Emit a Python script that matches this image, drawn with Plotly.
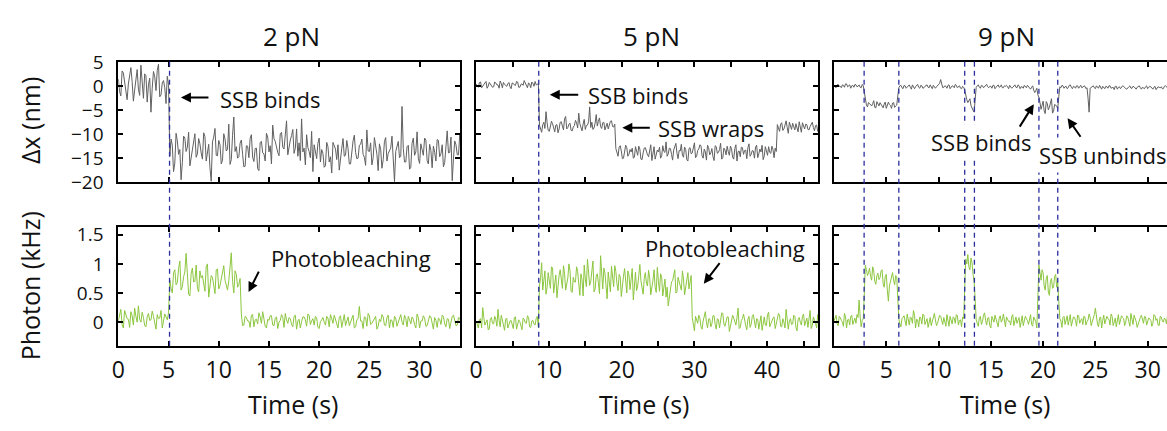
import numpy as np
import plotly.graph_objects as go

# ---------------- data ----------------
# Each trace: samples at t = i*dt ("main") and samples half a step later ("mid").
DT_2PN = 0.25
DT_5PN = 0.3
DT_9PN = 0.2

dx_2pN = [1.5, -2.0, 2.8, -1.2, 0.5, 3.9, -3.1, 1.8, -0.6, 4.4, -2.5, 2.2, 0.3, -5.4, 3.1, -0.9, 4.6, -1.8, 1.2, -3.6, 0.4,
          -11.0, -17.8, -9.8, -14.2, -19.5, -10.4, -13.6, -9.6, -15.1, -11.8, -14.8, -10.9,
          -13.9, -9.7, -15.6, -12.1, -19.8, -10.6, -14.4, -11.3, -16.2, -9.9, -13.5, -7.9, -15.3, -6.4, -12.6, -14.7,
          -11.2, -16.8, -12.4, -14.9, -10.1, -15.7, -12.9, -17.6, -11.5, -14.1, -9.8, -13.7, -16.2, -10.9, -12.8, -14.5,
          -9.6, -13.1, -7.2, -12.5, -10.3, -14.0, -8.9, -11.8, -6.8, -12.9, -10.1, -13.6, -9.4, -12.2, -15.1, -10.8,
          -13.2, -16.9, -11.7, -15.8, -18.1, -12.4, -15.3, -17.5, -12.9, -14.6, -11.3, -16.2, -13.0, -10.2, -15.1, -12.3,
          -11.0, -14.8, -9.1, -13.6, -16.4, -10.7, -14.2, -12.0, -17.1, -11.5, -15.6, -13.3, -10.4, -19.9, -12.8, -14.9,
          -4.2, -15.8, -12.6, -17.3, -11.9, -14.4, -9.5, -16.1, -13.2, -10.8, -15.5, -12.1, -17.0, -13.8, -11.1, -14.7,
          -12.2, -15.9, -9.3, -13.8, -19.7, -11.4, -14.3, -10.1]
dx_2pN_mid = [-1.1, 3.2, 0.6, -2.8, 2.4, 1.0, -0.8, 3.5, -1.9, 0.9, 2.6, -3.3, 1.7, -0.4, 2.0, 3.3, -2.2, 0.7, -0.3, 2.1,
              -14.6, -12.3, -16.0, -11.4, -13.2, -15.9, -10.8, -12.7, -16.6, -13.3, -9.9, -14.1, -12.0,
              -15.2, -10.5, -13.8, -17.0, -11.6, -8.8, -14.5, -12.2, -15.4, -11.0, -13.1, -16.3, -10.2,
              -13.6, -15.0, -11.9, -14.2, -16.7, -12.5, -10.9, -14.8, -13.0, -17.2, -11.7, -13.9, -15.6,
              -10.6, -12.4, -8.1, -11.5, -13.8, -9.9, -12.7, -10.4, -14.3, -11.2, -9.0, -12.9, -14.6,
              -15.5, -13.7, -16.4, -12.8, -14.9, -17.8, -13.4, -11.9, -15.8, -14.0, -16.6, -12.6, -14.7,
              -11.7, -13.1, -12.2, -15.7, -10.9, -14.4, -13.0, -16.2, -11.4, -13.8, -15.0, -12.1, -14.2,
              -16.5, -13.5, -11.8, -14.9, -12.4, -17.6, -13.2, -15.3, -10.7, -14.0, -12.9, -16.0, -13.6,
              -11.5, -14.6, -13.0, -15.8, -12.3, -16.9, -10.8, -13.7, -15.1, -12.0, -14.4, -11.2, -16.2,
              -13.4, -12.5, -15.6, -11.3, -14.1, -16.8, -12.7, -13.9, -10.6, -15.0, -12.2, -14.3, -11.8]

ph_2pN = [0.02, 0.22, -0.1, 0.12, 0.05, 0.18, -0.05, 0.1, 0.28, 0.0, 0.08, -0.08, 0.15, 0.04, 0.1, -0.12, 0.06, 0.2, 0.01, 0.09, 0.16,
          0.58, 0.85, 0.64, 0.92, 0.55, 0.78, 1.18, 0.48, 0.83, 0.69, 0.98, 0.52, 0.76, 0.62, 0.95, 0.43, 0.8, 0.66, 0.9, 0.57,
          0.74, 0.97, 0.6, 0.71, 1.19, 0.5, 0.82, 0.65,
          0.14, -0.05, 0.08, 0.02, 0.12, -0.08, 0.05, 0.16, -0.02, 0.07, -0.1,
          0.03, 0.11, -0.06, 0.09, 0.0, 0.13, -0.09, 0.04, 0.08, -0.04, 0.1,
          -0.12, 0.05, 0.01, 0.09, -0.07, 0.12, 0.02, -0.05, 0.07, -0.11, 0.04,
          0.0, 0.1, -0.08, 0.06, 0.12, -0.03, 0.08, -0.09, 0.13, 0.01, -0.06,
          0.07, -0.1, 0.04, 0.27, 0.02, 0.09, -0.07, 0.11, -0.02, 0.06, -0.12,
          0.05, 0.13, -0.05, 0.08, -0.1, 0.03, 0.1, -0.07, 0.06, 0.0, 0.12,
          -0.08, 0.04, 0.09, -0.04, 0.14, -0.1, 0.02, 0.07, -0.06, 0.11, 0.0,
          0.08, -0.09, 0.05, 0.12, -0.03, 0.06, -0.11, 0.1, 0.01, -0.05, 0.07]
ph_2pN_mid = [0.12, -0.04, 0.2, 0.06, -0.09, 0.11, 0.24, 0.0, 0.05, 0.17, -0.06, 0.09, 0.03, 0.19, -0.02, 0.13, 0.07, -0.1, 0.14, 0.04,
              0.72, 0.5, 0.9, 0.68, 1.05, 0.61, 0.86, 0.74, 0.45, 0.93, 0.7, 0.58, 0.88, 0.8, 0.53, 1.0, 0.67, 0.77, 0.49, 0.91,
              0.63, 0.84, 0.72, 0.55, 0.99, 0.7, 0.88, 0.6, 0.75,
              -0.06, 0.1, 0.02, -0.09, 0.13, 0.04, -0.03, 0.09, 0.18, -0.07, 0.05,
              0.11, -0.05, 0.07, -0.11, 0.03, 0.08, 0.15, -0.02, 0.06, -0.08, 0.12,
              0.02, -0.1, 0.09, 0.04, 0.14, -0.04, 0.06, 0.1, -0.09, 0.01, 0.08,
              -0.05, 0.07, 0.13, -0.02, 0.03, -0.1, 0.11, 0.05, -0.06, 0.09, 0.0,
              0.12, -0.08, 0.06, 0.02, -0.11, 0.08, 0.15, -0.04, 0.03, 0.1, -0.07,
              0.01, 0.09, -0.06, 0.12, 0.04, -0.09, 0.07, 0.0, 0.13, -0.05, 0.06,
              0.1, -0.03, 0.05, -0.1, 0.08, 0.02, 0.11, -0.07, 0.04, 0.09, -0.12,
              0.03, 0.07, -0.04, 0.1, -0.08, 0.05, 0.01, 0.12, -0.06, 0.08, -0.02]

dx_5pN = [0.5, -0.2, 0.9, 0.1, 0.6, -0.4, 0.8, 0.2, -0.1, 0.7, 0.3, 1.1, -0.3, 0.4, 0.0, 0.8, -0.5, 0.6, 0.2, 0.9,
          -0.2, 0.5, 1.2, 0.1, 0.7, -0.3, 0.6, 1.0, 0.4,
          -8.1, -9.6, -7.5, -5.3, -9.2, -8.4, -7.8, -9.5, -8.0, -8.9, -7.4, -9.1, -6.3, -8.6, -7.7, -9.3, -8.2, -7.6,
          -5.6, -8.8, -7.9, -9.0, -8.1, -4.3, -7.5, -8.7, -5.9, -7.3, -8.4, -7.6, -9.1, -7.7, -8.0, -7.2, -8.5,
          -13.0, -14.6, -12.4, -15.1, -13.5, -12.8, -14.2, -13.7, -15.0, -12.6,
          -14.4, -13.1, -15.3, -12.9, -13.8, -14.7, -12.2, -13.9, -15.2, -13.3,
          -12.7, -14.5, -13.6, -11.6, -14.1, -13.0, -15.4, -12.5, -14.0, -13.4,
          -12.1, -14.8, -13.2, -15.6, -12.8, -13.9, -11.8, -14.6, -13.1, -12.4,
          -15.0, -13.7, -12.3, -14.3, -13.0, -15.5, -12.6, -13.8, -11.9, -14.9,
          -13.3, -12.5, -14.4, -13.0, -15.2, -12.2, -13.6, -14.7, -12.8, -13.4,
          -15.1, -12.0, -14.2, -13.5, -12.7, -14.9, -13.1, -12.3, -14.5, -13.8,
          -12.6, -14.0, -13.2, -12.9,
          -8.0, -9.4, -7.6, -8.9, -7.2, -9.8, -8.3, -7.7, -9.1, -8.5, -7.4, -9.6, -8.2, -7.9, -9.0, -8.4, -7.5, -9.3,
          -8.1, -8.7]
dx_5pN_mid = [0.2, 0.8, -0.3, 0.5, 1.0, 0.0, 0.4, -0.2, 0.9, 0.3, -0.4, 0.6, 0.8, 0.1, 0.5, -0.1, 0.7, 0.3, 1.0, -0.2,
              0.4, 0.2, 0.7, -0.3, 0.5, 0.9, 0.0, 0.3, 0.6,
              -9.0, -8.0, -8.8, -7.6, -9.4, -7.3, -8.6, -8.1, -9.7, -7.5, -8.3, -6.8, -8.9, -7.9, -9.2, -8.5, -7.1, -8.7,
              -7.8, -9.3, -6.9, -8.2, -7.4, -8.6, -9.0, -7.7, -8.3, -6.6, -8.8, -7.5, -8.1, -8.9, -7.3, -8.4, -7.9,
              -14.1, -12.7, -13.5, -15.0, -12.3, -14.6, -13.2, -12.9, -14.8, -13.6,
              -12.5, -15.2, -13.9, -12.8, -14.3, -13.1, -15.5, -12.6, -14.0, -13.7,
              -15.0, -12.4, -13.8, -14.6, -12.9, -14.2, -13.3, -11.9, -15.1, -13.5,
              -14.4, -12.7, -15.3, -13.0, -14.1, -12.6, -14.9, -13.4, -12.2, -14.5,
              -13.1, -15.4, -12.8, -13.9, -14.7, -12.4, -14.0, -13.2, -15.2, -12.9,
              -14.3, -13.6, -12.5, -14.8, -13.0, -15.6, -13.5, -12.7, -14.2, -13.3,
              -12.8, -14.6, -13.4, -15.0, -12.3, -14.1, -13.7, -15.3, -12.6, -14.4,
              -13.8, -12.5, -14.9, -13.6,
              -8.8, -7.9, -9.2, -8.1, -8.6, -7.5, -9.0, -8.4, -7.8, -9.5, -8.3, -7.6, -8.9, -8.0, -9.1, -7.7, -8.6, -8.2,
              -9.4, -7.9]

ph_5pN = [0.02, -0.1, 0.06, 0.25, -0.05, 0.04, -0.12, 0.08, -0.03, 0.05, 0.22, -0.08, 0.0, -0.14, 0.07, -0.04, 0.03,
          -0.11, 0.09, -0.06, 0.01, -0.13, 0.05, -0.02, 0.08, -0.09, 0.03, -0.05, 0.1,
          0.62, 1.02, 0.7, 0.48, 0.85, 0.58, 0.93, 0.66, 0.42, 0.8,
          0.71, 0.97, 0.55, 0.76, 0.88, 0.51, 0.69, 0.95, 0.6, 0.83,
          0.45, 0.74, 1.08, 0.63, 0.9, 0.52, 0.79, 0.68, 1.14, 0.57,
          0.84, 0.4, 0.73, 0.96, 0.61, 0.87, 0.54, 0.78, 0.65, 0.92,
          0.5, 0.81, 0.7, 0.38, 0.86, 0.62, 0.99, 0.56, 0.75, 0.67,
          0.89, 0.47, 0.72, 0.6, 0.94, 0.53, 0.77, 0.64, 0.43, 0.28,
          0.58, 0.71, 0.9, 0.52, 0.68, 0.55, 0.74, 0.6, 0.85, 0.66,
          0.08, -0.15, 0.05, 0.12, -0.08, 0.02, 0.18, -0.1, 0.06, -0.03,
          0.11, -0.12, 0.04, 0.0, 0.15, -0.07, 0.09, -0.16, 0.03, 0.07,
          -0.05, 0.24, -0.09, 0.06, 0.01, -0.13, 0.1, -0.04, 0.13, -0.1,
          0.05, 0.02, -0.14, 0.09, -0.06, 0.17, -0.02, 0.07, -0.11, 0.04,
          0.12, -0.08, 0.0, 0.22, -0.12, 0.06, -0.03, 0.1, -0.15, 0.08,
          -0.05, 0.14, 0.02, -0.09, 0.2, -0.06, 0.05, -0.1, 0.07]
ph_5pN_mid = [-0.05, 0.04, -0.1, 0.08, 0.0, -0.13, 0.06, -0.02, 0.1, -0.07, 0.03, 0.12, -0.05, 0.05, -0.1, 0.02, -0.04,
              0.08, -0.12, 0.04, -0.06, 0.07, -0.01, 0.11, -0.08, 0.02, -0.03, 0.06, -0.09,
              0.75, 0.55, 0.88, 0.6, 0.72, 0.95, 0.5, 0.81, 0.68, 0.9,
              0.58, 0.84, 0.64, 1.0, 0.53, 0.77, 0.69, 0.87, 0.46, 0.73,
              0.98, 0.61, 0.8, 0.7, 1.05, 0.57, 0.83, 0.49, 0.76, 0.93,
              0.63, 0.86, 0.52, 0.74, 0.97, 0.66, 0.82, 0.44, 0.79, 0.6,
              0.88, 0.56, 0.92, 0.67, 0.54, 0.8, 0.71, 0.48, 0.85, 0.62,
              0.76, 0.58, 0.9, 0.51, 0.7, 0.83, 0.45, 0.74, 0.6, 0.42,
              0.69, 0.8, 0.5, 0.77, 0.62, 0.88, 0.47, 0.72, 0.57, 0.8,
              -0.06, 0.1, -0.02, 0.07, -0.12, 0.13, 0.0, 0.05, -0.08, 0.11,
              -0.04, 0.06, -0.1, 0.16, -0.03, 0.04, 0.09, -0.07, 0.12, -0.01,
              0.08, -0.11, 0.03, 0.14, -0.06, 0.05, -0.09, 0.1, 0.0, 0.06,
              -0.12, 0.11, 0.02, -0.05, 0.13, -0.08, 0.04, 0.09, -0.03, 0.15,
              -0.07, 0.06, -0.1, 0.08, 0.02, -0.04, 0.12, -0.09, 0.05, 0.0,
              0.1, -0.06, 0.07, 0.03, -0.11, 0.09, -0.02, 0.13, -0.05]

dx_9pN = [0.1, -0.3, 0.4, 0.0, 0.3, -0.2, 0.5, 0.1, -0.4, 0.2, 0.4, -0.1, 0.3, -0.3, 0.1,
          -3.2, -4.3, -3.6, -4.1, -3.0, -4.5, -3.8, -3.4, -4.2, -3.7, -4.6, -3.3, -4.0, -3.5, -4.4, -3.9,
          -0.3, 0.2, -0.5, 0.1, -0.2, 0.3, -0.6, 0.0, -0.1, 0.4, -0.4, 0.1, -0.3, 0.2, -0.2, 0.3, -0.5, 0.0,
          -0.1, 0.2, 1.4, -0.3, 0.1, -0.4, 0.3, -0.2, 0.0, 0.4, -0.3, 0.1, -0.5, -0.2,
          -2.0, -3.4, -2.6, -4.8, -5.4,
          -0.2, 0.3, -0.4, 0.1, -0.1, 0.4, -0.3, 0.0, 0.2, -0.5, 0.1, -0.2, 0.3, -0.3, 0.0, -0.1, 0.2, -0.4,
          0.1, -0.2, 0.3, -0.5, -0.1, 0.2, -0.3, 0.0, -0.6, 0.1, -1.3, -0.4,
          -2.3, -4.8, -3.1, -5.7, -3.6, -4.4, -2.6, -5.2, -3.9, -4.6,
          -0.1, 0.2, -0.4, 0.0, -0.3, 0.3, -0.5, -0.1, 0.1, -0.4, 0.2, -0.2, 0.0, -0.3,
          -5.4, -0.2, 0.1, -0.5, -0.1, 0.2, -0.6, -0.2, 0.0, -0.4, 0.1, -0.3, -0.7, 0.0, -0.2, -0.5, 0.1, -0.3,
          -0.6, -0.1, -0.4, 0.0, -0.5, -0.2, 0.1, -0.6, -0.3, -0.1, -0.5, 0.0, -0.4, -0.2, -0.7, -0.1, -0.3,
          -0.5, 0.0, -0.2, -0.4]
dx_9pN_mid = [-0.2, 0.3, 0.0, -0.3, 0.2, 0.5, -0.1, 0.3, 0.1, -0.2, 0.3, 0.0, -0.2, 0.4, -1.5,
              -3.9, -3.4, -4.0, -3.6, -4.4, -3.2, -4.1, -3.7, -4.5, -3.3, -4.0, -3.8, -4.6, -3.4, -4.1, -2.0,
              0.1, -0.3, 0.2, -0.4, 0.0, -0.2, 0.3, -0.5, 0.1, -0.2, 0.2, -0.4, 0.0, 0.3, -0.3, -0.1, 0.2, -0.4,
              0.1, 0.6, 0.3, -0.2, 0.0, 0.2, -0.5, 0.1, -0.3, 0.2, -0.1, -0.4, 0.0, -0.8,
              -2.8, -3.0, -4.0, -5.0, -2.5,
              0.1, -0.2, 0.2, -0.3, 0.3, -0.1, 0.0, -0.4, 0.2, -0.2, 0.3, -0.1, -0.3, 0.1, 0.2, -0.5, 0.0, -0.2,
              0.3, -0.3, 0.1, -0.1, -0.4, 0.0, 0.2, -0.4, -0.2, -0.8, -0.9, -1.8,
              -3.4, -4.0, -5.1, -3.2, -4.9, -3.5, -5.6, -3.8, -4.2, -2.2,
              -0.3, 0.1, -0.1, -0.5, 0.2, -0.2, 0.0, -0.4, 0.1, -0.1, -0.3, 0.1, -0.5,
              -2.5, -0.4, 0.0, -0.3, 0.1, -0.4, -0.2, 0.0, -0.5, -0.1, 0.1, -0.4, -0.2, 0.0, -0.6, -0.1, -0.3,
              0.0, -0.5, -0.2, 0.1, -0.4, -0.1, -0.6, 0.0, -0.3, -0.2, -0.5, 0.1, -0.3, -0.1, -0.6, 0.0, -0.4,
              -0.2, -0.1, -0.5, 0.1, -0.3, -0.2]

ph_9pN = [0.02, 0.12, -0.06, 0.08, 0.0, 0.15, -0.1, 0.05, 0.1, -0.04, 0.07, 0.13, 0.38, -0.08, 0.06,
          0.98, 0.8, 0.93, 0.72, 0.88, 0.65, 0.84, 0.76, 0.9, 0.6, 0.82, 0.36, 0.7, 0.85, 0.64, 0.78,
          0.05, -0.08, 0.1, 0.02, 0.14, -0.05, 0.07, 0.2, -0.1, 0.04, 0.09, -0.03, 0.12, 0.0, -0.09, 0.08,
          0.03, 0.15, -0.06, 0.06, 0.1, -0.04, 0.01, 0.13, -0.07, 0.05, 0.09, -0.02, 0.11, 0.03, -0.08, 0.06,
          1.08, 1.16, 0.9, 1.02, 0.7,
          0.04, -0.07, 0.1, 0.01, 0.16, -0.05, 0.08, -0.1, 0.05, 0.12, -0.03, 0.07, 0.0, 0.14, -0.08,
          0.06, 0.02, 0.1, -0.06, 0.09, 0.03, -0.09, 0.11, 0.0, 0.06, -0.04, 0.13, -0.07, 0.05, -0.1,
          0.98, 0.72, 0.85, 0.55, 0.8, 0.46, 0.75, 0.6, 0.82, 0.68,
          0.06, -0.09, 0.1, 0.02, -0.05, 0.13, 0.0, 0.08, -0.07, 0.11,
          0.03, -0.04, 0.09, 0.01, 0.14, -0.06, 0.05, 0.24, -0.03, 0.07,
          -0.1, 0.12, 0.02, 0.06, -0.05, 0.1, 0.0, -0.08, 0.13, 0.04,
          0.08, -0.06, 0.11, 0.01, 0.15, -0.04, 0.07, -0.09, 0.05, 0.12,
          -0.02, 0.09, 0.0, 0.06, -0.07, 0.13, 0.03, -0.05, 0.1, 0.02,
          0.07, -0.03, 0.08]
ph_9pN_mid = [0.08, -0.03, 0.1, 0.03, -0.07, 0.09, 0.04, -0.05, 0.12, 0.02, -0.02, 0.08, 0.1, 0.03, 0.5,
              0.9, 0.85, 0.78, 0.95, 0.7, 0.8, 0.73, 0.88, 0.66, 0.79, 0.55, 0.62, 0.8, 0.72, 0.8, 0.4,
              -0.03, 0.06, 0.11, -0.06, 0.04, 0.09, -0.02, 0.12, 0.05, -0.08, 0.07, 0.14, -0.04, 0.06, 0.02, -0.06,
              0.1, 0.04, -0.02, 0.12, 0.0, 0.08, -0.07, 0.05, 0.1, -0.03, 0.07, 0.13, -0.05, 0.04, 0.09, 0.5,
              1.0, 0.95, 1.1, 0.82, 0.4,
              -0.02, 0.08, -0.04, 0.12, 0.03, 0.07, -0.06, 0.1, 0.0, 0.06, -0.08, 0.11, 0.04, -0.03, 0.09,
              0.01, -0.05, 0.13, 0.05, -0.02, 0.08, 0.02, -0.06, 0.1, 0.03, 0.07, -0.04, 0.09, 0.01, 0.45,
              0.85, 0.9, 0.62, 0.75, 0.52, 0.7, 0.58, 0.78, 0.6, 0.35,
              0.02, 0.08, -0.04, 0.11, 0.05, -0.07, 0.09, 0.03, 0.12, -0.02,
              0.06, 0.1, -0.05, 0.04, 0.08, 0.0, 0.13, 0.06, -0.08, 0.09,
              0.03, -0.03, 0.1, 0.05, 0.14, -0.06, 0.07, 0.02, -0.04, 0.11,
              0.06, 0.0, 0.09, -0.07, 0.05, 0.12, 0.01, -0.03, 0.08, 0.04,
              0.1, -0.05, 0.07, 0.03, -0.02, 0.11, 0.06, -0.06, 0.09, 0.0,
              0.05, 0.12, -0.03]

events_2pN = [5.1]
events_5pN = [8.6]
events_9pN = [2.88, 6.2, 12.5, 13.43, 19.6, 21.4]

panel_titles = ["2 pN", "5 pN", "9 pN"]
x_ticks_2pN = [0, 5, 10, 15, 20, 25, 30]
x_ticks_5pN = [0, 5, 10, 15, 20, 25, 30, 35, 40, 45]
x_labels_5pN = ["0", "", "10", "", "20", "", "30", "", "40", ""]
x_ticks_9pN = [0, 5, 10, 15, 20, 25, 30]
y_ticks_dx = [-20, -15, -10, -5, 0, 5]
y_labels_dx = ["\u221220", "\u221215", "\u221210", "\u22125", "0", "5"]
y_ticks_ph = [0, 0.5, 1, 1.5]
y_labels_ph = ["0", "0.5", "1", "1.5"]

# ---------------- layout helpers ----------------
W, H = 1167, 431
FONT = "Open Sans"
GRAY = "#606060"
GREEN = "#8cc63f"
BLUE = "#2b2f9e"
INK = "#111111"


def fx(px):
    return px / W


def fy(py):
    return 1 - py / H


def merge(main, mid, dt):
    n = min(len(main), len(mid))
    t = np.arange(len(main)) * dt
    xs, ys = [], []
    for i in range(len(main)):
        xs.append(t[i])
        ys.append(main[i])
        if i < n:
            xs.append(t[i] + dt / 2)
            ys.append(mid[i])
    return xs, ys


x_dom = [[fx(112), fx(456)], [fx(472), fx(816)], [fx(832), 1.0]]
y_top = [fy(180), fy(52)]
y_bot = [fy(354), fy(228)]
x_ranges = [[0, 34.05], [0, 47.0], [0, 31.85]]
y_range_dx = [-20, 5.1]
y_range_ph = [-0.403, 1.629]

fig = go.Figure()

series = [(dx_2pN, dx_2pN_mid, ph_2pN, ph_2pN_mid, DT_2PN),
          (dx_5pN, dx_5pN_mid, ph_5pN, ph_5pN_mid, DT_5PN),
          (dx_9pN, dx_9pN_mid, ph_9pN, ph_9pN_mid, DT_9PN)]
for k, (dx, dxm, ph, phm, dt) in enumerate(series):
    tx, vx = merge(dx, dxm, dt)
    tp, vp = merge(ph, phm, dt)
    fig.add_trace(go.Scatter(x=tx, y=vx, mode="lines", line=dict(color=GRAY, width=1),
                             xaxis=f"x{k + 1}", yaxis=f"y{k + 1}", showlegend=False, hoverinfo="skip"))
    fig.add_trace(go.Scatter(x=tp, y=vp, mode="lines", line=dict(color=GREEN, width=1),
                             xaxis=f"x{k + 4}", yaxis=f"y{k + 4}", showlegend=False, hoverinfo="skip"))

tick_sets = [(x_ticks_2pN, [str(v) for v in x_ticks_2pN]),
             (x_ticks_5pN, x_labels_5pN),
             (x_ticks_9pN, [str(v) for v in x_ticks_9pN])]

common = dict(showline=True, linecolor="black", linewidth=2, ticks="inside", ticklen=5,
              tickwidth=1.5, tickcolor="black", showgrid=False, zeroline=False)
xfont = dict(family=FONT, size=23, color=INK)
yfont = dict(family=FONT, size=19, color=INK)

layout_axes = {}
for k in range(3):
    tv, tt = tick_sets[k]
    layout_axes[f"xaxis{k + 1}"] = dict(domain=x_dom[k], range=x_ranges[k], anchor=f"y{k + 1}",
                                        tickvals=tv, ticktext=tt, showticklabels=False,
                                        mirror="ticks", tickfont=xfont, **common)
    layout_axes[f"yaxis{k + 1}"] = dict(domain=y_top, range=y_range_dx, anchor=f"x{k + 1}",
                                        tickvals=y_ticks_dx, ticktext=y_labels_dx,
                                        showticklabels=(k == 0), ticklabelstandoff=9, tickfont=yfont,
                                        mirror=("ticks" if k < 2 else False), **common)
    layout_axes[f"xaxis{k + 4}"] = dict(domain=x_dom[k], range=x_ranges[k], anchor=f"y{k + 4}",
                                        tickvals=tv, ticktext=tt, showticklabels=True, tickfont=xfont,
                                        ticklabelstandoff=3, mirror="ticks", **common)
    layout_axes[f"yaxis{k + 4}"] = dict(domain=y_bot, range=y_range_ph, anchor=f"x{k + 4}",
                                        tickvals=y_ticks_ph, ticktext=y_labels_ph,
                                        showticklabels=(k == 0), ticklabelstandoff=9, tickfont=yfont,
                                        mirror=("ticks" if k < 2 else False), **common)
layout_axes["xaxis"] = layout_axes.pop("xaxis1")
layout_axes["yaxis"] = layout_axes.pop("yaxis1")

shapes = []
for k, evs in enumerate([events_2pN, events_5pN, events_9pN]):
    xr = "x" if k == 0 else f"x{k + 1}"
    for e in evs:
        shapes.append(dict(type="line", xref=xr, yref="paper", x0=e, x1=e,
                           y0=y_bot[0], y1=y_top[1], layer="above",
                           line=dict(color=BLUE, width=1.3, dash="5px,4px")))

annotations = []
for cx, txt in zip([286, 648, 1006], panel_titles):
    annotations.append(dict(text=txt, x=fx(cx), y=fy(24), xref="paper", yref="paper",
                            showarrow=False, xanchor="center", yanchor="middle",
                            font=dict(family=FONT, size=26, color=INK)))
for cx in [288, 641, 1004]:
    annotations.append(dict(text="Time (s)", x=fx(cx), y=fy(416), xref="paper", yref="paper",
                            showarrow=False, xanchor="center", yanchor="middle",
                            font=dict(family=FONT, size=25, color=INK)))
for cy, txt in [(114, "\u0394x (nm)"), (290, "Photon (kHz)")]:
    annotations.append(dict(text=txt, x=fx(23), y=fy(cy), xref="paper", yref="paper",
                            showarrow=False, xanchor="center", yanchor="middle", textangle=-90,
                            font=dict(family=FONT, size=25, color=INK)))

labels = [(211, 91, "SSB binds", False), (263, 261, "Photobleaching", False),
          (581, 87, "SSB binds", False), (652, 122, "SSB wraps", False),
          (639, 250, "Photobleaching", False),
          (927, 137, "SSB binds", True), (1035, 151, "SSB unbinds", True)]
for lx, ly, txt, bg in labels:
    annotations.append(dict(text=txt, x=fx(lx), y=fy(ly), xref="paper", yref="paper",
                            showarrow=False, xanchor="left", yanchor="middle",
                            bgcolor=("white" if bg else "rgba(0,0,0,0)"), borderpad=2,
                            font=dict(family=FONT, size=22, color=INK)))

arrows = [((175, 90), (204, 90)), ((243, 297), (254, 275)),
          ((546, 87), (576, 87)), ((619, 122), (648, 122)),
          ((701, 288), (718, 266)),
          ((1033, 97), (1018, 121)), ((1067, 112), (1081, 132))]
for (hx, hy), (tx, ty) in arrows:
    annotations.append(dict(text="", x=fx(hx), y=fy(hy), xref="paper", yref="paper",
                            ax=tx - hx, ay=ty - hy, showarrow=True, arrowhead=2,
                            arrowsize=1, arrowwidth=2, arrowcolor="black", standoff=0))

fig.update_layout(width=W, height=H, margin=dict(l=0, r=0, t=0, b=0), autosize=False,
                  paper_bgcolor="white", plot_bgcolor="white", showlegend=False,
                  shapes=shapes, annotations=annotations,
                  font=dict(family=FONT, size=22, color=INK), **layout_axes)

fig.write_html("out.html")
